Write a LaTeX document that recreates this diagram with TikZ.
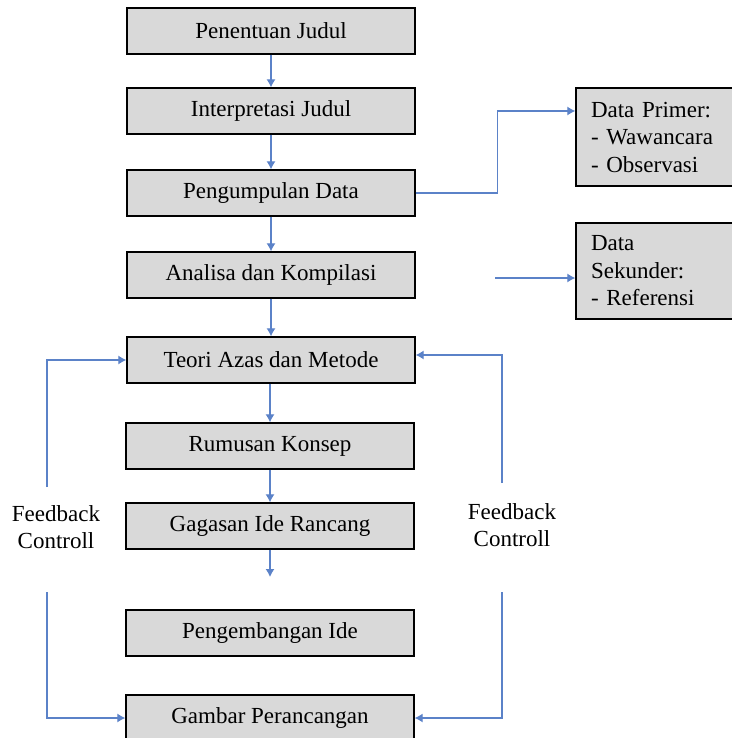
\documentclass[tikz,border=0pt]{standalone}
\usepackage{fontspec}
\setmainfont{Liberation Serif}
\usepackage{tikz}
\usetikzlibrary{arrows.meta}
\definecolor{boxgray}{HTML}{D9D9D9}
\definecolor{flowblue}{HTML}{5B82C8}

\begin{document}
\begin{tikzpicture}[x=1pt,y=-1pt,
        stage/.style={draw=black,line width=1.3pt,fill=boxgray,minimum width=288pt,minimum height=46pt,inner sep=0pt,font=\fontsize{23}{27.5}\selectfont},
        datbox/.style={draw=black,line width=1.3pt,fill=boxgray,text width=140pt,inner xsep=15pt,inner ysep=8pt,align=left,font=\fontsize{23}{27.5}\selectfont},
        lbl/.style={align=center,font=\fontsize{23}{27.5}\selectfont},
        flow/.style={draw=flowblue,line width=1.2pt,-{Latex[length=8pt,width=9pt]}}]
        \useasboundingbox (0,0) rectangle (731,738);
        \node[stage] (pen) at (271,31) {Penentuan Judul};
        \node[stage] (int) at (271,111) {Interpretasi Judul};
        \node[stage] (kum) at (271,193) {Pengumpulan Data};
        \node[stage] (ana) at (271,275) {Analisa dan Kompilasi};
        \node[stage] (teo) at (271,360) {Teori Azas dan Metode};
        \node[stage] (rum) at (270,446) {Rumusan Konsep};
        \node[stage] (gag) at (270,526) {Gagasan Ide Rancang};
        \node[stage] (pgb) at (270,633) {Pengembangan Ide};
        \node[stage] (gmb) at (270,718) {Gambar Perancangan};
        \node[datbox,minimum height=98pt] (dp) at (661,137) {Data Primer:\\- Wawancara\\- Observasi};
        \node[datbox,minimum height=96pt] (ds) at (661,271) {Data\\Sekunder:\\- Referensi};
        \node[lbl] (fbl) at (56,527) {Feedback\\Controll};
        \node[lbl] (fbr) at (512,525) {Feedback\\Controll};
        \coordinate (gagend) at (270,577);
        \coordinate (sk0) at (495,278);
        \coordinate (fl1) at (47,487);
        \coordinate (fl2) at (47,592);
        \coordinate (fr1) at (502,483);
        \coordinate (fr2) at (502,592);
        \draw[flow] (pen) -- (int);
        \draw[flow] (int) -- (kum);
        \draw[flow] (kum) -- (ana);
        \draw[flow] (ana) -- (teo);
        \draw[flow] (rum.north |- teo.south) -- (rum);
        \draw[flow] (rum) -- (gag);
        \draw[flow] (gag) -- (gagend);
        \draw[flow] (kum.east) -- ++(82,0) |- ([yshift=26pt]dp.west);
        \draw[flow] (sk0) -- (sk0 -| ds.west);
        \draw[flow] (fl1) |- (teo.west);
        \draw[flow] (fl2) |- (gmb.west);
        \draw[flow] (fr1) |- ([yshift=5pt]teo.east);
        \draw[flow] (fr2) |- (gmb.east);
\end{tikzpicture}
\end{document}
